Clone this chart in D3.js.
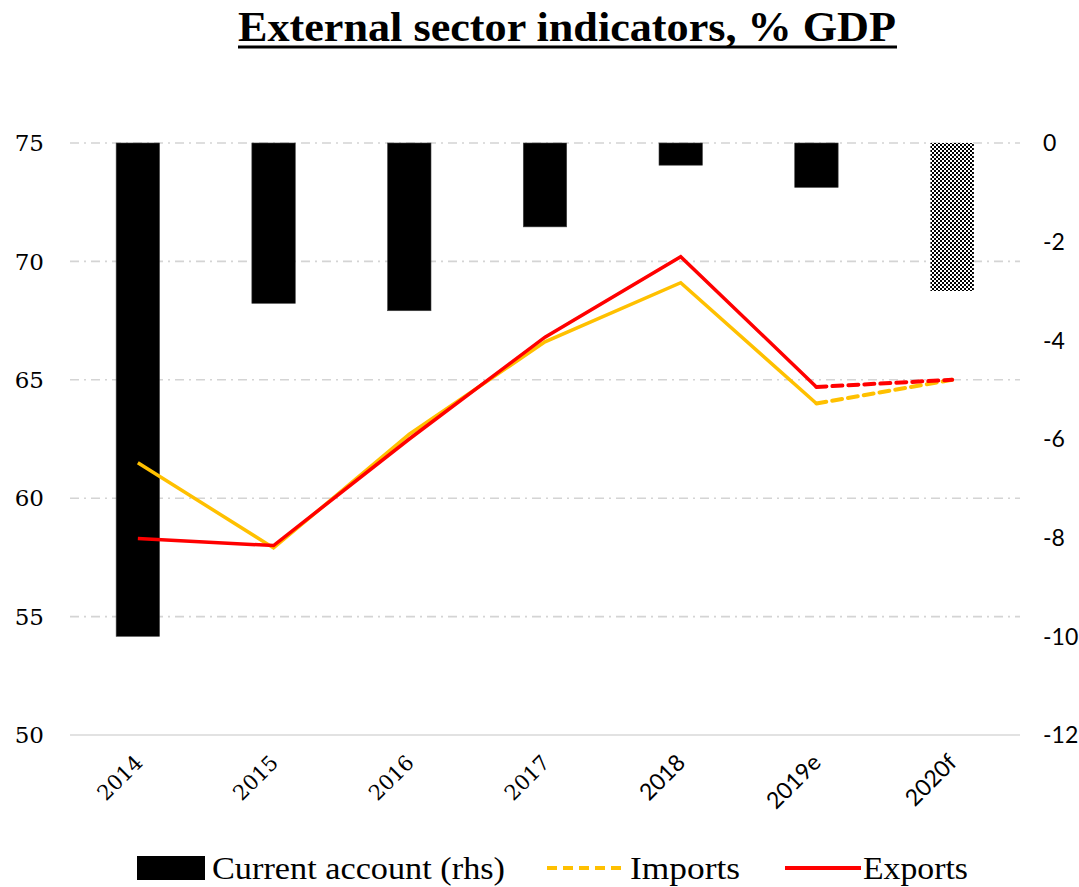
<!DOCTYPE html>
<html>
<head>
<meta charset="utf-8">
<script src="https://cdn.jsdelivr.net/npm/d3@7"></script>
<style>
  html, body { margin: 0; padding: 0; background: #fff; }
  svg { display: block; }
</style>
</head>
<body>
<svg id="chart" width="1079" height="887"></svg>
<script>
// Years shown on the category axis
const categories = ["2014", "2015", "2016", "2017", "2018", "2019e", "2020f"];
// Current account balance, % GDP (right axis)
const currentAccount = [-10.0, -3.25, -3.4, -1.7, -0.45, -0.9, -3.0];
// Imports and exports, % GDP (left axis)
const imports = [61.5, 57.9, 62.7, 66.6, 69.1, 64.0, 65.0];
const exports = [58.3, 58.0, 62.5, 66.8, 70.2, 64.7, 65.0];
// Axis ticks
const leftTicks = [50, 55, 60, 65, 70, 75];
const rightTicks = [0, -2, -4, -6, -8, -10, -12];
// Index from which values are estimates / forecasts (drawn dashed)
const forecastFrom = 5;

const svg = d3.select("#chart");
const serif = "'Liberation Serif', 'DejaVu Serif', serif";
const labelSerif = "'DejaVu Serif', 'Liberation Serif', serif";
const sans = "Lato, 'Open Sans', 'Liberation Sans', sans-serif";

const plot = { left: 70, right: 1020, top: 143, bottom: 735 };

const x = d3.scaleBand().domain(categories).range([plot.left, plot.right]).paddingInner(0).paddingOuter(0);
const yL = d3.scaleLinear().domain([50, 75]).range([plot.bottom, plot.top]);
const yR = d3.scaleLinear().domain([-12, 0]).range([plot.bottom, plot.top]);

// Checkerboard fill for the forecast bar
const defs = svg.append("defs");
const pat = defs.append("pattern").attr("id", "checker")
  .attr("width", 4).attr("height", 4).attr("patternUnits", "userSpaceOnUse");
pat.append("rect").attr("width", 4).attr("height", 4).attr("fill", "#fff");
pat.append("rect").attr("width", 2).attr("height", 2).attr("fill", "#000");
pat.append("rect").attr("x", 2).attr("y", 2).attr("width", 2).attr("height", 2).attr("fill", "#000");

// Title
svg.append("text")
  .attr("x", 567).attr("y", 41)
  .attr("text-anchor", "middle")
  .attr("font-family", serif).attr("font-weight", "bold").attr("font-size", 42)
  .attr("textLength", 658).attr("lengthAdjust", "spacingAndGlyphs")
  .text("External sector indicators, % GDP");
svg.append("line")
  .attr("x1", 238).attr("x2", 897).attr("y1", 47).attr("y2", 47)
  .attr("stroke", "#000").attr("stroke-width", 3);

// Horizontal gridlines (left axis)
svg.append("g").selectAll("line")
  .data(leftTicks.filter(d => d !== 50))
  .join("line")
  .attr("x1", plot.left).attr("x2", plot.right)
  .attr("y1", d => yL(d)).attr("y2", d => yL(d))
  .attr("stroke", "#d4d4d4").attr("stroke-width", 1.6)
  .attr("stroke-dasharray", "9,5,2,5");

// Category axis line
svg.append("line")
  .attr("x1", plot.left).attr("x2", plot.right)
  .attr("y1", yL(50)).attr("y2", yL(50))
  .attr("stroke", "#d9d9d9").attr("stroke-width", 1.5);

// Current account bars, hanging from zero
const barW = x.bandwidth() * 0.32;
svg.append("g").selectAll("rect")
  .data(categories.map((c, i) => ({ c, v: currentAccount[i], i })))
  .join("rect")
  .attr("x", d => x(d.c) + x.bandwidth() / 2 - barW / 2)
  .attr("width", barW)
  .attr("y", d => yR(0))
  .attr("height", d => yR(d.v) - yR(0))
  .attr("fill", d => d.i >= forecastFrom + 1 ? "url(#checker)" : "#000")
  .attr("stroke", d => d.i >= forecastFrom + 1 ? "none" : "#444")
  .attr("stroke-width", 0.6);

// Lines: solid through actual data, dashed across the forecast segment
const cx = c => x(c) + x.bandwidth() / 2;
function drawSeries(values, color) {
  const pts = categories.map((c, i) => [cx(c), yL(values[i])]);
  const line = d3.line();
  svg.append("path")
    .attr("d", line(pts.slice(0, forecastFrom + 1)))
    .attr("fill", "none").attr("stroke", color).attr("stroke-width", 3.5)
    .attr("stroke-linejoin", "miter");
  svg.append("path")
    .attr("d", line(pts.slice(forecastFrom)))
    .attr("fill", "none").attr("stroke", color).attr("stroke-width", 4)
    .attr("stroke-dasharray", "10,6").attr("stroke-linecap", "round");
}
drawSeries(imports, "#FFC000");
drawSeries(exports, "#FF0000");

// Left axis labels
svg.append("g").selectAll("text")
  .data(leftTicks)
  .join("text")
  .attr("x", 44).attr("y", d => yL(d))
  .attr("dy", "0.36em")
  .attr("text-anchor", "end")
  .attr("font-family", labelSerif).attr("font-size", 23).attr("fill", "#000")
  .text(d => d);

// Right axis labels
svg.append("g").selectAll("text")
  .data(rightTicks)
  .join("text")
  .attr("x", 1043).attr("y", d => yR(d))
  .attr("dy", "0.36em")
  .attr("text-anchor", "start")
  .attr("font-family", sans).attr("font-size", 23).attr("fill", "#000")
  .text(d => d);

// Category labels, rotated
svg.append("g").selectAll("text")
  .data(categories)
  .join("text")
  .attr("transform", c => `translate(${cx(c) + 6},${764}) rotate(-45)`)
  .attr("text-anchor", "end")
  .attr("font-family", (c, i) => i < 4 ? labelSerif : sans)
  .attr("font-size", (c, i) => i < 4 ? 21 : 23).attr("fill", "#000")
  .text(c => c);

// Legend
const lg = svg.append("g").attr("font-family", serif).attr("font-size", 32).attr("fill", "#000");
lg.append("rect").attr("x", 137).attr("y", 856).attr("width", 68).attr("height", 24).attr("fill", "#000");
lg.append("text").attr("x", 212).attr("y", 879)
  .attr("textLength", 293).attr("lengthAdjust", "spacingAndGlyphs")
  .text("Current account (rhs)");
lg.append("line").attr("x1", 547).attr("x2", 625).attr("y1", 868).attr("y2", 868)
  .attr("stroke", "#FFC000").attr("stroke-width", 4).attr("stroke-dasharray", "10,6");
lg.append("text").attr("x", 630).attr("y", 879)
  .attr("textLength", 110).attr("lengthAdjust", "spacingAndGlyphs")
  .text("Imports");
lg.append("line").attr("x1", 785).attr("x2", 861).attr("y1", 868).attr("y2", 868)
  .attr("stroke", "#FF0000").attr("stroke-width", 4);
lg.append("text").attr("x", 863).attr("y", 879)
  .attr("textLength", 105).attr("lengthAdjust", "spacingAndGlyphs")
  .text("Exports");
</script>
</body>
</html>
